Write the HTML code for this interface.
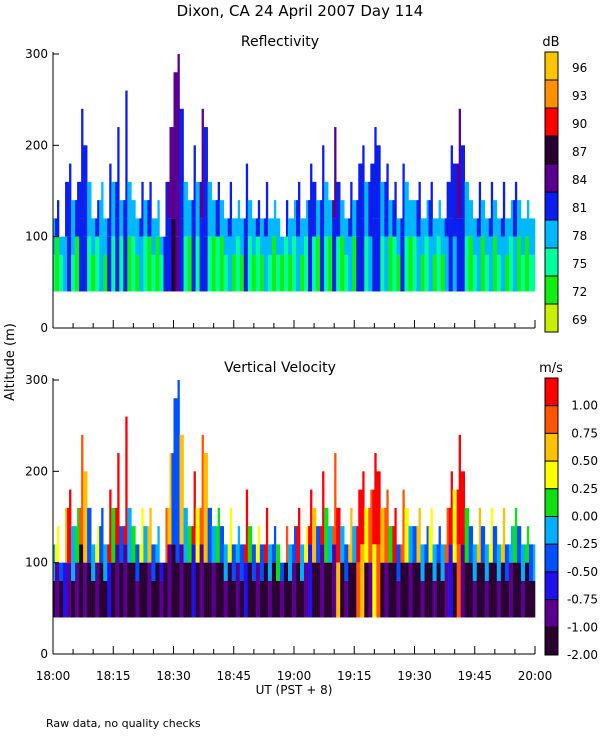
<!DOCTYPE html>
<html><head><meta charset="utf-8"><style>
body{margin:0;background:#fff;}
svg text{font-family:"DejaVu Sans","Liberation Sans",sans-serif;fill:#000;}
</style></head><body>
<svg id="c" width="600" height="750" xmlns="http://www.w3.org/2000/svg">
<rect width="600" height="750" fill="#fff"/>
<text x="300" y="16" text-anchor="middle" font-size="15">Dixon, CA 24 April 2007  Day 114</text>
<text x="280" y="46" text-anchor="middle" font-size="14">Reflectivity</text>
<text x="280" y="372" text-anchor="middle" font-size="14">Vertical Velocity</text>
<text x="14" y="362" text-anchor="middle" font-size="13" transform="rotate(-90 14 362)">Altitude (m)</text>
<text x="294" y="694" text-anchor="middle" font-size="12">UT  (PST + 8)</text>
<text x="46" y="727" font-size="11">Raw data, no quality checks</text>
<g id="g"></g>
</svg>
<script>
const timeLabels=["18:00","18:15","18:30","18:45","19:00","19:15","19:30","19:45","20:00"];
const altTicks=[0,100,200,300];
const dbLabels=["96","93","90","87","84","81","78","75","72","69"];
const dbColors=["#ffc400","#ff9000","#ff0000","#2a0030","#5a0090","#0a1ef0","#00b8ff","#00ff9c","#10f010","#c8f000"];
const msLabels=["1.00","0.75","0.50","0.25","0.00","-0.25","-0.50","-0.75","-1.00","-2.00"];
const msColors=["#ff0000","#ff5500","#ffc000","#ffff00","#10e010","#00b0ff","#0050ff","#2010f0","#5a0090","#2a0030"];
// column tops (m), one per minute
const tops=[120,140,100,160,180,140,160,240,200,160,120,140,160,120,180,160,220,140,260,160,140,120,160,140,160,120,140,100,160,220,280,300,240,160,140,200,160,240,220,160,140,160,140,120,160,120,140,120,180,140,120,140,120,160,120,140,120,100,140,120,140,160,120,140,180,160,140,200,160,140,220,160,140,120,160,140,180,200,160,180,220,200,160,180,140,160,120,180,160,140,140,160,120,140,160,120,140,120,160,200,180,240,200,160,140,120,160,140,120,160,140,120,160,120,140,160,140,120,140,120];
const lowTop=[80,100,80,100,100,80,100,120,100,100,80,100,100,80,100,100,120,100,120,100,100,80,100,100,100,80,100,80,100,120,120,100,120,100,100,120,100,120,100,100,100,100,100,80,100,80,100,80,100,100,80,100,80,100,80,100,80,80,100,80,100,100,80,100,120,100,100,120,100,100,120,100,100,80,100,100,100,120,100,100,120,120,100,100,100,100,80,100,100,100,100,100,80,100,100,80,100,80,100,120,100,120,120,100,100,80,100,100,80,100,100,80,100,80,100,100,100,80,100,80];
// reflectivity level index into dbColors (0=96 ... 9=69)
const refUp=[6,5,6,5,5,6,5,5,5,6,6,5,6,6,5,6,5,6,5,6,6,6,5,6,5,6,6,6,5,4,4,4,5,6,6,5,6,4,5,6,6,5,6,6,5,6,6,6,5,6,6,5,6,5,6,6,6,6,5,6,6,5,6,6,5,5,6,5,6,6,4,5,6,6,5,6,5,5,6,5,5,5,6,5,6,5,6,5,6,6,6,5,6,6,5,6,6,6,5,5,5,4,5,6,6,6,5,6,6,5,6,6,5,6,6,5,6,6,6,6];
const refLow=[7,8,7,6,5,7,8,5,5,7,8,7,6,8,5,7,5,7,5,8,7,8,6,7,8,7,8,7,5,5,3,4,5,7,8,5,7,5,5,7,8,7,8,7,6,8,7,8,5,7,8,7,8,6,7,8,7,8,7,8,7,6,8,7,5,7,8,5,7,8,5,7,8,7,6,8,5,5,7,6,5,5,7,6,8,7,8,5,7,8,7,6,8,7,6,8,7,8,6,5,6,5,5,7,8,7,6,8,7,6,8,7,6,8,7,6,8,7,8,7];
// velocity level index into msColors (0=>1.00 ... 9=-2.00)
const velUp=[5,3,6,2,0,5,4,1,2,6,5,3,6,5,0,4,0,6,0,5,4,6,3,5,2,6,5,7,1,2,6,6,2,5,4,0,3,1,2,6,5,4,6,5,3,6,5,6,0,4,6,3,6,0,5,6,4,6,1,5,6,0,5,3,0,2,6,0,4,5,1,0,5,6,2,5,0,0,3,1,0,0,2,1,4,0,6,1,3,5,6,2,5,6,3,5,6,5,1,0,3,0,0,4,6,5,2,6,5,3,6,5,2,6,5,4,6,5,4,6];
const velLow=[9,8,9,7,8,9,8,9,8,9,9,8,9,9,7,9,8,9,8,9,9,8,9,9,8,9,9,8,9,8,9,9,8,9,9,7,9,8,9,9,8,9,9,8,9,9,8,9,7,9,9,8,9,9,8,9,9,8,9,9,8,9,9,8,7,9,9,8,9,9,8,2,9,8,9,9,1,2,9,8,3,1,9,8,9,9,8,9,9,8,9,9,8,9,9,8,9,9,8,7,9,1,8,9,9,8,9,9,8,9,9,8,9,9,8,9,9,8,9,9];

const NS="http://www.w3.org/2000/svg";
const g=document.getElementById('g');
function el(t,a,p){const e=document.createElementNS(NS,t);for(const k in a)e.setAttribute(k,a[k]);(p||g).appendChild(e);return e;}
const X0=53,X1=535;
const xs=m=>X0+(X1-X0)*m/120;
const panels=[{y0:328,y300:54,up:refUp,low:refLow,cols:dbColors,name:'reflectivity'},{y0:654,y300:380,up:velUp,low:velLow,cols:msColors,name:'velocity'}];
panels.forEach(p=>{
  const ys=v=>p.y0+(p.y300-p.y0)*v/300;
  const gp=el('g',{});
  
  
  const n=tops.length;
  for(let i=0;i<n;i++){
    const x=xs(i),w=(xs(i+1)-x)/2;
    // two half-columns: second half blends the neighbour's colours for texture
    const j=(i+1)%n;
    const halves=[[tops[i],lowTop[i],p.up[i],p.low[i]],[Math.min(tops[i],Math.max(tops[j],lowTop[i])),lowTop[j],p.up[j],p.low[i]]];
    halves.forEach((h,k)=>{
      const hx=x+k*w;
      const lt=Math.min(h[1],h[0]);
      const r1=el('rect',{x:hx,y:ys(h[0]),width:w+0.3,height:Math.max(0,ys(lt)-ys(h[0])),fill:p.cols[h[2]]},gp);
      
      
      const r2=el('rect',{x:hx,y:ys(lt),width:w+0.3,height:ys(40)-ys(lt),fill:p.cols[k?p.low[j]:h[3]]},gp);
      
      
    });
  }
  el('line',{x1:X0,y1:p.y300-2,x2:X0,y2:p.y0,stroke:'#000'});
  el('line',{x1:X0,y1:p.y0,x2:X1,y2:p.y0,stroke:'#000'});
  altTicks.forEach(v=>{
    el('line',{x1:X0,y1:ys(v),x2:X0+6,y2:ys(v),stroke:'#000'});
    const t=el('text',{x:X0-5,y:ys(v)+4,'text-anchor':'end','font-size':12});t.textContent=v;
    
    
  });
  for(let m=0;m<=120;m+=5){
    el('line',{x1:xs(m),y1:p.y0,x2:xs(m),y2:p.y0-(m%15==0?8:5),stroke:'#000'});
  }
});
timeLabels.forEach((l,i)=>{
  const t=el('text',{x:xs(i*15),y:680,'text-anchor':'middle','font-size':12});t.textContent=l;
  
  
});
function bar(y0,y1,cols,labels,unit,atBoundary,name){
  const h=(y1-y0)/cols.length;
  const u=el('text',{x:551,y:y0-6,'text-anchor':'middle','font-size':13});u.textContent=unit;
  
  
  cols.forEach((c,i)=>{
    const r=el('rect',{x:545,y:y0+i*h,width:13,height:h,fill:c,stroke:'#000','stroke-width':1});
    
    
    const ty=atBoundary?y0+(i+1)*h+4:y0+i*h+h/2+6;
    const t=el('text',{x:atBoundary?598:572,y:ty,'text-anchor':atBoundary?'end':'start','font-size':12});t.textContent=labels[i];
    
    
  });
}
bar(52,332,dbColors,dbLabels,'dB',false,'reflectivity-colorbar');
bar(378,655,msColors,msLabels,'m/s',true,'velocity-colorbar');
</script>
</body></html>
